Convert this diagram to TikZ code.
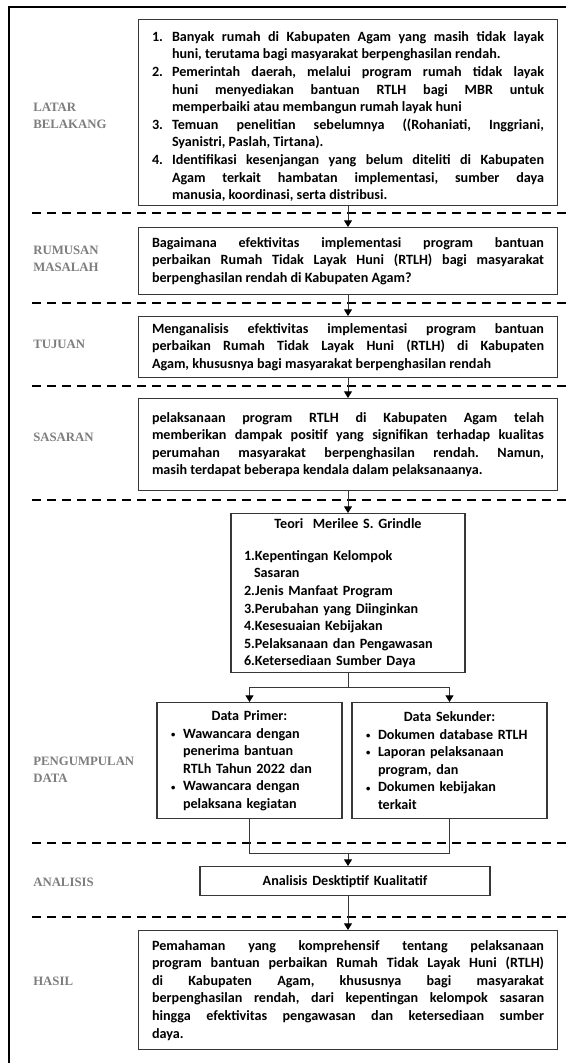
\documentclass[tikz,border=0pt]{standalone}
\usepackage{fontspec}
\setmainfont{Carlito}
\newfontfamily\lblfont{Liberation Serif}
\usetikzlibrary{arrows.meta,positioning}
\definecolor{lblgray}{RGB}{125,125,125}
\definecolor{edgegray}{RGB}{55,55,55}
\hyphenpenalty=10000
\exhyphenpenalty=10000
\tolerance=9999
\emergencystretch=20pt
\frenchspacing
\newcommand\numitem[2]{\par\hangindent=15pt\hangafter=1\noindent\makebox[15pt][l]{#1}#2\par}
\newcommand\gritem[1]{\par\hangindent=7.5pt\hangafter=1\noindent #1\par}
\newcommand\bul[1]{\par\hangindent=9pt\hangafter=1\noindent\makebox[9pt][l]{\raisebox{0.12ex}{\fontsize{6.5}{6.5}\selectfont\textbullet}}#1\par}

\begin{document}
\begin{tikzpicture}[x=0.75pt,y=-0.75pt,
  box/.style={draw=edgegray,line width=1pt,fill=white,anchor=north,align=justify,inner xsep=10pt,inner ysep=3pt,
    font=\fontsize{10.6}{13.2}\selectfont\bfseries},
  lbl/.style={anchor=west,align=left,inner sep=0pt,text=lblgray,font=\lblfont\fontsize{9.6}{12.5}\selectfont\bfseries},
  sep/.style={line width=2pt,dash pattern=on 6.75pt off 4.5pt},
  arr/.style={-{Triangle[width=6pt,length=5pt,color=black]},draw=edgegray,line width=0.75pt},
  lnk/.style={draw=edgegray,line width=0.75pt}
]
\useasboundingbox (0,0) rectangle (566,1063);
% frame
\draw[line width=1.5pt] (8.5,1070) -- (8.5,7.5) -- (570,7.5);

% separators
\draw[sep] (32,213) -- (566,213);
\draw[sep] (32,303) -- (566,303);
\draw[sep] (32,386) -- (566,386);
\draw[sep] (32,500) -- (566,500);
\draw[sep] (32,843) -- (566,843);
\draw[sep] (32,917) -- (566,917);

% stage labels
\node[lbl] (llb)  at (33,116) {LATAR\\BELAKANG};
\node[lbl] (lrm)  at (33,259) {RUMUSAN\\MASALAH};
\node[lbl] (ltj)  at (33,344) {TUJUAN};
\node[lbl] (lss)  at (33,437) {SASARAN};
\node[lbl] (lpd)  at (33,770) {PENGUMPULAN\\DATA};
\node[lbl] (lan)  at (33,882) {ANALISIS};
\node[lbl] (lhs)  at (33,981) {HASIL};

% boxes
\node[box,text width=294pt,minimum height=134.25pt] (lb) at (348,19) {%
\numitem{1.}{Banyak rumah di Kabupaten Agam yang masih tidak layak \linebreak huni, terutama bagi masyarakat berpenghasilan rendah.}%
\numitem{2.}{Pemerintah daerah, melalui program rumah tidak layak \linebreak huni menyediakan bantuan RTLH bagi MBR untuk \linebreak memperbaiki atau membangun rumah layak huni}%
\numitem{3.}{Temuan penelitian sebelumnya ((Rohaniati, Inggriani, \linebreak Syanistri, Paslah, Tirtana).}%
\numitem{4.}{Identifikasi kesenjangan yang belum diteliti di Kabupaten \linebreak Agam terkait hambatan implementasi, sumber daya \linebreak manusia, koordinasi, serta distribusi.}};
\node[box,text width=294pt,minimum height=50.25pt] (rm) at (348,227) {Bagaimana efektivitas implementasi program bantuan \linebreak perbaikan Rumah Tidak Layak Huni (RTLH) bagi masyarakat \linebreak berpenghasilan rendah di Kabupaten Agam?};
\node[box,text width=294pt,minimum height=45.75pt] (tj) at (348,316) {Menganalisis efektivitas implementasi program bantuan \linebreak perbaikan Rumah Tidak Layak Huni (RTLH) di Kabupaten \linebreak Agam, khususnya bagi masyarakat berpenghasilan rendah};
\node[box,text width=294pt,minimum height=69pt] (ss) at (348,398) {pelaksanaan program RTLH di Kabupaten Agam telah \linebreak memberikan dampak positif yang signifikan terhadap kualitas \linebreak perumahan masyarakat berpenghasilan rendah. Namun, \linebreak masih terdapat beberapa kendala dalam pelaksanaanya.};
\node[box,align=left,text width=156pt,inner xsep=9.75pt,inner ysep=2pt,minimum height=119.25pt] (teori) at (348,513) {%
{\centering Teori\ \ Merilee S. Grindle\par}\vspace{11pt}%
\gritem{1.Kepentingan Kelompok\newline Sasaran}%
\gritem{2.Jenis Manfaat Program}%
\gritem{3.Perubahan yang Diinginkan}%
\gritem{4.Kesesuaian Kebijakan}%
\gritem{5.Pelaksanaan dan Pengawasan}%
\gritem{6.Ketersediaan Sumber Daya}};
\node[box,align=left,text width=117.75pt,inner xsep=10.5pt,minimum height=87pt] (prim) at (249.5,702) {%
{\centering Data Primer:\par}%
\bul{Wawancara dengan\newline penerima bantuan\newline RTLh Tahun 2022 dan}%
\bul{Wawancara dengan\newline pelaksana kegiatan}};
\node[box,align=left,text width=125.25pt,inner xsep=10.5pt,minimum height=87pt] (sek) at (449.5,702) {%
{\centering Data Sekunder:\par}%
\bul{Dokumen database RTLH}%
\bul{Laporan pelaksanaan\newline program, dan}%
\bul{Dokumen kebijakan\newline terkait}};
\node[box,align=center,text width=197.5pt,minimum height=21.75pt] (anl) at (345,866) {Analisis Desktiptif Kualitatif};
\node[box,text width=294pt,minimum height=89.25pt] (hsl) at (348,930) {Pemahaman yang komprehensif tentang pelaksanaan \linebreak program bantuan perbaikan Rumah Tidak Layak Huni (RTLH) \linebreak di Kabupaten Agam, khususnya bagi masyarakat \linebreak berpenghasilan rendah, dari kepentingan kelompok sasaran \linebreak hingga efektivitas pengawasan dan ketersediaan sumber \linebreak daya.};

% flow
\coordinate (fork) at (348,687);
\coordinate (jn) at (348,853);
\draw[arr] (lb) -- (rm);
\draw[arr] (rm) -- (tj);
\draw[arr] (tj) -- (ss);
\draw[arr] (ss) -- (teori);
\draw[lnk] (teori) -- (fork);
\draw[arr] (fork) -| (prim);
\draw[arr] (fork) -| (sek);
\draw[lnk] (prim) |- (jn) -| (sek);
\draw[arr] (jn) -- (anl.north -| jn);
\draw[arr] (anl.south -| jn) -- (hsl);
\end{tikzpicture}
\end{document}
